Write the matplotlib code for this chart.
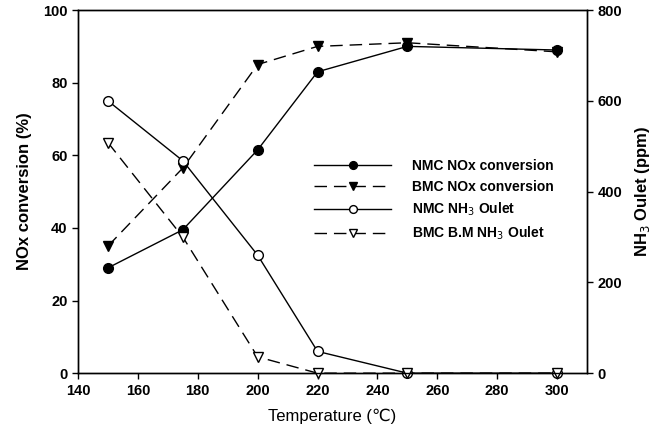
import matplotlib
matplotlib.use("Agg")
import matplotlib.pyplot as plt

plt.rcParams["font.family"] = ["Liberation Sans", "DejaVu Sans"]

temps = [150, 175, 200, 220, 250, 300]
nmc_nox = [29, 39.5, 61.5, 83, 90, 89]
bmc_nox = [35, 56.5, 85, 90, 91, 88.5]
nmc_nh3 = [600, 468, 260, 48, 0, 0]
bmc_nh3 = [508, 300, 36, 0, 0, 0]

fig = plt.figure(figsize=(6.64, 4.38), dpi=100)
ax = fig.add_axes([0.1175, 0.148, 0.7665, 0.829])
ax2 = ax.twinx()

dash = (0, (9, 5))
h1, = ax.plot(temps, nmc_nox, color="k", lw=1, marker="o", ms=7, mfc="k", label="NMC NOx conversion")
h2, = ax.plot(temps, bmc_nox, color="k", lw=1, ls=dash, marker="v", ms=7, mfc="k", label="BMC NOx conversion")
h3, = ax2.plot(temps, nmc_nh3, color="k", lw=1, marker="o", ms=7, mfc="white", label="NMC NH$_3$ Oulet")
h4, = ax2.plot(temps, bmc_nh3, color="k", lw=1, ls=dash, marker="v", ms=7, mfc="white", label="BMC B.M NH$_3$ Oulet")
for h in (h1, h2, h3, h4):
    h.set_clip_on(False)

ax.set_xlim(140, 310)
ax.set_ylim(0, 100)
ax2.set_ylim(0, 800)
ax.set_xticks(range(140, 301, 20))
ax.set_yticks(range(0, 101, 20))
ax2.set_yticks(range(0, 801, 200))

for a in (ax, ax2):
    for s in a.spines.values():
        s.set_linewidth(1)
    a.tick_params(direction="out", length=4, width=1, labelsize=10.5)
    for lab in a.get_xticklabels() + a.get_yticklabels():
        lab.set_fontweight("bold")

ax.set_xlabel("Temperature (\u2103)", fontsize=12, labelpad=8)
ax.set_ylabel("NOx conversion (%)", fontsize=12, fontweight="bold", labelpad=8)
ax2.set_ylabel("NH$_3$ Oulet (ppm)", fontsize=12, fontweight="bold", labelpad=8)

leg = ax.legend(handles=[h1, h2, h3, h4], loc="upper left", bbox_to_anchor=(0.44, 0.625),
                frameon=False, handlelength=5.5, handletextpad=1.5, labelspacing=0.5,
                markerscale=0.8, prop={"weight": "bold", "size": 10})

fig.savefig("out.png", dpi=100)
